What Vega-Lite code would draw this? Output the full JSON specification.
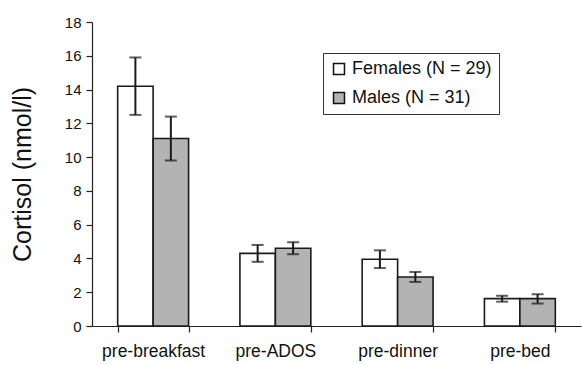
{
  "$schema": "https://vega.github.io/schema/vega-lite/v6.json",
  "autosize": {"type": "none"},
  "padding": {"left": 92, "top": 22, "right": 1, "bottom": 39},
  "width": 489,
  "height": 304,
  "config": {
    "view": {"stroke": null},
    "font": "Liberation Sans",
    "axis": {"domainColor": "#222", "tickColor": "#222", "labelColor": "#111", "titleColor": "#111", "grid": false},
    "axisY": {"tickCount": 10, "labelOverlap": false, "labelBound": false, "labelFontSize": 15, "tickSize": 6, "labelPadding": 5, "domainWidth": 1.2, "tickWidth": 1.2, "titleFontSize": 25, "titleFontWeight": "normal", "titlePadding": 29}
  },
  "data": {
    "values": [
      {"time": "pre-breakfast", "sex": "Females (N = 29)", "mean": 14.2, "lo": 12.5, "hi": 15.9},
      {"time": "pre-breakfast", "sex": "Males (N = 31)", "mean": 11.1, "lo": 9.8, "hi": 12.4},
      {"time": "pre-ADOS", "sex": "Females (N = 29)", "mean": 4.3, "lo": 3.8, "hi": 4.8},
      {"time": "pre-ADOS", "sex": "Males (N = 31)", "mean": 4.6, "lo": 4.25, "hi": 4.96},
      {"time": "pre-dinner", "sex": "Females (N = 29)", "mean": 3.95, "lo": 3.43, "hi": 4.48},
      {"time": "pre-dinner", "sex": "Males (N = 31)", "mean": 2.9, "lo": 2.61, "hi": 3.2},
      {"time": "pre-bed", "sex": "Females (N = 29)", "mean": 1.62, "lo": 1.44, "hi": 1.79},
      {"time": "pre-bed", "sex": "Males (N = 31)", "mean": 1.62, "lo": 1.33, "hi": 1.88}
    ]
  },
  "encoding": {
    "x": {
      "field": "time", "type": "nominal",
      "sort": ["pre-breakfast", "pre-ADOS", "pre-dinner", "pre-bed"],
      "scale": {"paddingInner": 0.42, "paddingOuter": 0.21},
      "axis": {"title": null, "labelAngle": 0, "labelFontSize": 17.5, "tickBand": "extent", "tickSize": 6, "labelPadding": 10, "domainWidth": 1.2, "tickWidth": 1.2}
    },
    "xOffset": {
      "field": "sex", "type": "nominal",
      "sort": ["Females (N = 29)", "Males (N = 31)"],
      "scale": {"paddingInner": 0, "paddingOuter": 0}
    }
  },
  "layer": [
    {
      "mark": {"type": "bar", "stroke": "#1a1a1a", "strokeWidth": 1.6},
      "encoding": {
        "y": {
          "field": "mean", "type": "quantitative",
          "scale": {"domain": [0, 18], "nice": false},
          "axis": {"title": "Cortisol (nmol/l)"}
        },
        "fill": {
          "field": "sex", "type": "nominal",
          "scale": {"domain": ["Females (N = 29)", "Males (N = 31)"], "range": ["#ffffff", "#b3b3b3"]},
          "legend": {
            "title": null, "orient": "none", "legendX": 231, "legendY": 31,
            "symbolType": "square", "symbolSize": 120, "symbolStrokeColor": "#111", "symbolStrokeWidth": 1.5,
            "labelFontSize": 18, "labelColor": "#111", "labelLimit": 300, "labelOffset": 4,
            "rowPadding": 11, "padding": 7,
            "strokeColor": "#333", "fillColor": "#ffffff"
          }
        }
      }
    },
    {
      "mark": {"type": "rule", "color": "#1a1a1a", "strokeWidth": 2},
      "encoding": {"y": {"field": "lo", "type": "quantitative", "axis": {"title": "Cortisol (nmol/l)"}}, "y2": {"field": "hi"}}
    },
    {
      "mark": {"type": "tick", "color": "#1a1a1a", "size": 12, "thickness": 2},
      "encoding": {"y": {"field": "lo", "type": "quantitative", "axis": {"title": "Cortisol (nmol/l)"}}}
    },
    {
      "mark": {"type": "tick", "color": "#1a1a1a", "size": 12, "thickness": 2},
      "encoding": {"y": {"field": "hi", "type": "quantitative", "axis": {"title": "Cortisol (nmol/l)"}}}
    }
  ]
}
